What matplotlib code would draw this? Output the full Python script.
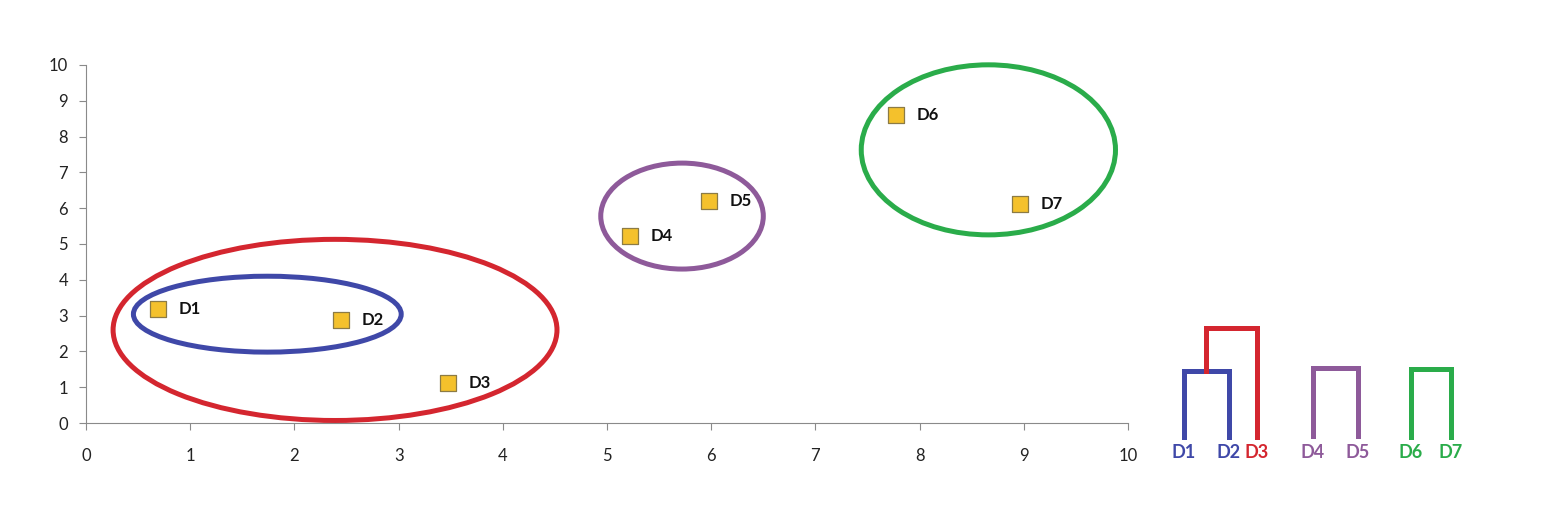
import matplotlib.pyplot as plt
from matplotlib.patches import Ellipse

# documents
names = ['D1', 'D2', 'D3', 'D4', 'D5', 'D6', 'D7']
xs = [0.69, 2.45, 3.47, 5.22, 5.98, 7.77, 8.96]
ys = [3.18, 2.88, 1.12, 5.22, 6.20, 8.60, 6.12]

# clusters drawn as ellipses: centre x, centre y, width, height
clu_cx = [1.74, 2.39, 5.72, 8.66]
clu_cy = [3.04, 2.60, 5.78, 7.63]
clu_w = [2.57, 4.26, 1.56, 2.44]
clu_h = [2.12, 5.06, 2.96, 4.75]
clu_colors = ['#3f48a8', '#d4262f', '#8e5a9a', '#2aac4a']

# dendrogram: leaf positions and merge heights
leaf_pos = [0, 1, 1.62, 2.87, 3.87, 5.04, 5.93]
leaf_colors = ['#3f48a8', '#3f48a8', '#d4262f', '#8e5a9a', '#8e5a9a', '#2aac4a', '#2aac4a']
h_blue = 1.55
h_red = 2.55
h_purple = 1.62
h_green = 1.58

plt.rcParams['font.family'] = ['Lato', 'DejaVu Sans']

fig = plt.figure(figsize=(15.5, 5.26), dpi=100)
ax = fig.add_axes([86 / 1550, 103 / 526, 1042 / 1550, 358 / 526])

for cx, cy, w, h, c in zip(clu_cx, clu_cy, clu_w, clu_h, clu_colors):
    ax.add_patch(Ellipse((cx, cy), w, h, fill=False, edgecolor=c, linewidth=3.6, zorder=2,
                         clip_on=False))

ax.scatter(xs, ys, marker='s', s=140, c='#f4c12c', edgecolors='#8c7b45', linewidths=0.9, zorder=3)
for n, x, y in zip(names, xs, ys):
    ax.annotate(n, (x, y), xytext=(15, 0), textcoords='offset points', va='center',
                fontsize=12, fontweight='bold', color='#111111')

ax.set_xlim(0, 10)
ax.set_ylim(0, 10)
ax.set_xticks(range(11))
ax.set_yticks(range(11))
for s in ['top', 'right']:
    ax.spines[s].set_visible(False)
for s in ['left', 'bottom']:
    ax.spines[s].set_color('#8a8a8a')
ax.tick_params(axis='both', colors='#8a8a8a', labelcolor='#222222', labelsize=12, length=5)
ax.tick_params(axis='x', pad=13)
ax.tick_params(axis='y', pad=8)

# dendrogram
dax = fig.add_axes([1160 / 1550, 50 / 526, 320 / 1550, 200 / 526])
dax.set_xlim(-0.53, 6.58)
dax.set_ylim(-0.9, 3.75)
dax.axis('off')
lw = 3.6
p = leaf_pos
dax.plot([p[0], p[0], p[1], p[1]], [0, h_blue, h_blue, 0], color=leaf_colors[0], lw=lw,
         solid_joinstyle='miter')
mid = (p[0] + p[1]) / 2
dax.plot([mid, mid, p[2], p[2]], [h_blue, h_red, h_red, 0], color=leaf_colors[2], lw=lw,
         solid_joinstyle='miter')
dax.plot([p[3], p[3], p[4], p[4]], [0.03, h_purple, h_purple, 0.03], color=leaf_colors[3], lw=lw,
         solid_joinstyle='miter')
dax.plot([p[5], p[5], p[6], p[6]], [0, h_green, h_green, 0], color=leaf_colors[5], lw=lw,
         solid_joinstyle='miter')
for n, x, c in zip(names, leaf_pos, leaf_colors):
    dax.text(x, -0.35, n, ha='center', va='center', fontsize=13, fontweight='bold', color=c)

fig.savefig('out.png', dpi=100)
